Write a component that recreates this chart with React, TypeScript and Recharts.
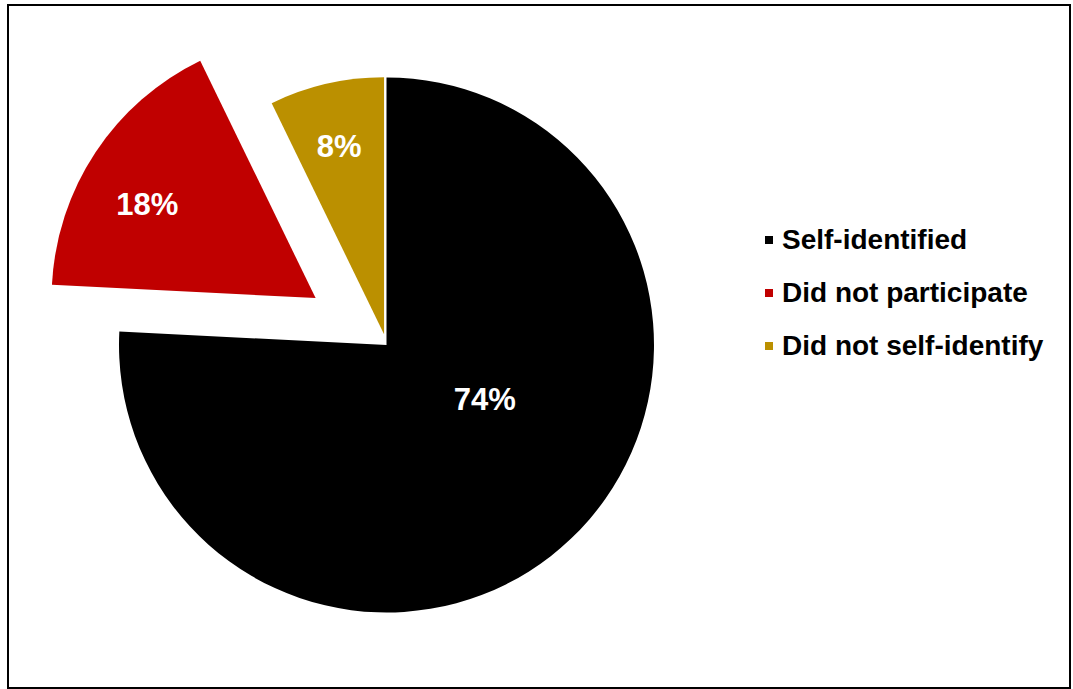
import React from "react";
import { PieChart, Pie, Cell, Legend } from "recharts";

// Categories (legend order = slice order, clockwise from 12 o'clock)
const categories = ["Self-identified", "Did not participate", "Did not self-identify"];
const shares = [75.8, 17.0, 7.2];
// Data labels printed on the wedges
const valueLabels = ["74%", "18%", "8%"];
const colors = ["#000000", "#C00000", "#BB9000"];

const W = 1073;
const H = 689;
const CX = 386.5;
const CY = 345;
const explode = [0, 85, 11];
const radii = [267.5, 264, 257];
const labelRadiusFrac = [0.42, 0.73, 0.75];
const labelAngleShift = [17.4, 4.3, 0.5];
const FONT = "Arial, 'Liberation Sans', sans-serif";
const RAD = Math.PI / 180;

const data = categories.map((name, i) => ({ name, value: shares[i], color: colors[i] }));

const total = shares.reduce((a, b) => a + b, 0);
const midAngles = shares.map((v, i) => {
  const before = shares.slice(0, i).reduce((a, b) => a + b, 0);
  return 90 - (360 * (before + v / 2)) / total;
});
const centers = midAngles.map((a, i) => ({
  x: CX + explode[i] * Math.cos(a * RAD),
  y: CY - explode[i] * Math.sin(a * RAD),
}));

const makeLabel = (visible: number) => (props: any) => {
  const { cx, cy, midAngle, outerRadius, index } = props;
  if (index !== visible) return null;
  const a = (midAngle + labelAngleShift[index]) * RAD;
  const r = outerRadius * labelRadiusFrac[index];
  return (
    <text
      x={cx + r * Math.cos(a)}
      y={cy - r * Math.sin(a)}
      fill="#ffffff"
      textAnchor="middle"
      dominantBaseline="central"
      fontFamily={FONT}
      fontWeight="bold"
      fontSize={31}
    >
      {valueLabels[index]}
    </text>
  );
};

const renderLegend = () => (
  <div style={{ fontFamily: FONT, fontWeight: "bold", fontSize: 28, color: "#000" }}>
    {data.map((d) => (
      <div key={d.name} style={{ display: "flex", alignItems: "center", height: 53.4 }}>
        <span style={{ width: 8, height: 8, background: d.color, marginRight: 9, flex: "none", display: "inline-block" }} />
        <span style={{ whiteSpace: "nowrap", lineHeight: "normal" }}>{d.name}</span>
      </div>
    ))}
  </div>
);

export default function App() {
  return (
    <div style={{ position: "absolute", left: 0, top: 0, width: W, height: H, background: "#fff" }}>
      <PieChart width={W} height={H} margin={{ top: 0, right: 0, bottom: 0, left: 0 }}>
        {data.map((_, i) => (
          <Pie
            key={i}
            data={data}
            dataKey="value"
            nameKey="name"
            cx={centers[i].x}
            cy={centers[i].y}
            innerRadius={0}
            outerRadius={radii[i]}
            startAngle={90}
            endAngle={-270}
            stroke="none"
            isAnimationActive={false}
            label={makeLabel(i)}
            labelLine={false}
            legendType="none"
          >
            {data.map((d, j) => (
              <Cell key={d.name} fill={j === i ? d.color : "none"} stroke="none" />
            ))}
          </Pie>
        ))}
        <Legend
          content={renderLegend}
          layout="vertical"
          align="right"
          verticalAlign="middle"
          wrapperStyle={{ position: "absolute", left: 765, top: 213, width: 300 }}
        />
      </PieChart>
      <div
        style={{
          position: "absolute",
          left: 7,
          top: 4,
          width: 1060,
          height: 681,
          border: "2px solid #000",
          pointerEvents: "none",
        }}
      />
    </div>
  );
}
